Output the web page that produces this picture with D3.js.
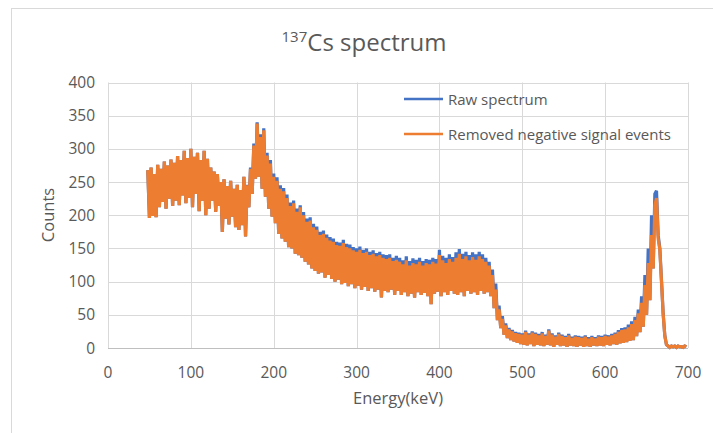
<!DOCTYPE html>
<meta charset="utf-8">
<style>
body { margin: 0; background: #fff; }
text { font-family: "Open Sans", "Noto Sans", sans-serif; fill: #595959; }
.grid line { stroke: #d9d9d9; stroke-width: 1; }
.series { fill: none; stroke-width: 3.2; stroke-linejoin: miter; }
</style>
<svg width="713" height="433"></svg>
<script src="https://d3js.org/d3.v7.min.js"></script>
<script>
// channel energies: first channel at 48 keV, one sample every 2 keV
var firstEnergy = 48, channelStep = 2;

// orange series (upper/lower edges of the noisy band)
var cleanedCounts = [
  268,196,272,199,262,197,276,212,270,220,
  281,210,275,225,284,214,279,222,289,215,
  283,230,297,218,286,226,300,212,288,232,
  294,206,283,222,297,200,285,210,272,222,
  266,205,262,214,250,175,254,195,244,186,
  252,198,240,182,246,178,238,185,258,168,
  245,212,270,232,305,255,338,258,318,240,
  328,228,290,210,278,198,258,188,252,172,
  240,165,236,160,226,152,214,150,218,142,
  205,140,212,136,200,130,190,126,192,120,
  182,116,178,112,170,114,172,106,166,110,
  162,104,160,100,155,103,154,96,158,98,
  152,93,150,96,147,90,145,94,148,88,
  143,92,145,86,140,90,142,85,138,88,
  140,76,136,86,134,84,136,88,131,80,
  133,86,130,80,126,84,132,78,124,82,
  128,76,126,84,130,80,124,83,128,78,
  126,66,130,82,127,85,140,78,132,84,
  128,80,134,86,130,82,136,80,142,84,
  134,78,138,86,132,82,137,84,133,80,
  138,86,134,82,130,84,124,78,110,60,
  88,42,58,30,44,20,34,15,28,12,
  25,10,22,8,21,6,20,5,24,4,
  20,6,23,3,21,5,19,4,22,3,
  18,5,26,4,20,2,17,5,21,3,
  18,4,16,2,19,4,15,3,17,2,
  16,4,15,2,17,3,14,2,16,4,
  14,3,17,4,16,3,18,5,17,4,
  19,6,21,5,24,7,27,8,28,9,
  31,11,36,12,42,18,52,24,68,32,
  95,50,128,72,170,120,215,226,165,148,
  100,52,18,5,3,1,3,2,3,1,
  3,2,2,1,3,2
];

// blue series (raw), sits a little above the orange one on its top edge
var rawCounts = [
  268,196,272,199,262,197,276,212,270,220,
  281,210,275,225,284,214,279,222,289,215,
  283,230,297,218,286,226,300,212,288,232,
  294,206,283,222,297,200,285,210,272,222,
  266,205,262,214,250,175,254,195,244,186,
  252,198,240,182,246,178,238,185,258,168,
  246,212,272,232,308,255,340,258,322,240,
  331,228,294,210,283,198,263,188,257,172,
  245,165,241,160,231,152,219,150,222,142,
  210,140,215,136,205,130,195,126,197,120,
  187,116,183,112,175,114,177,106,171,110,
  167,104,165,100,160,103,159,96,163,98,
  157,93,156,96,152,90,150,94,153,88,
  148,92,150,86,145,90,147,85,143,88,
  145,76,141,86,140,84,141,88,136,80,
  139,86,136,80,132,84,138,78,131,82,
  135,76,133,84,136,80,131,83,134,78,
  133,66,136,82,134,85,148,78,139,84,
  136,80,141,86,137,82,144,80,149,84,
  142,78,145,86,140,82,144,84,141,80,
  145,86,141,82,136,84,130,78,118,60,
  97,42,64,30,48,20,37,15,30,12,
  27,10,24,8,23,6,22,5,26,4,
  22,6,25,3,23,5,21,4,24,3,
  20,5,28,4,22,2,19,5,23,3,
  20,4,18,2,21,4,17,3,19,2,
  18,4,17,2,19,3,16,2,18,4,
  16,3,19,4,18,3,20,5,19,4,
  21,6,23,5,27,7,30,8,31,9,
  35,11,40,12,47,18,58,24,78,32,
  110,50,150,72,200,120,232,237,170,150,
  102,52,19,5,3,1,3,2,3,1,
  3,2,2,1,3,2
];

var seriesNames = ["Raw spectrum", "Removed negative signal events"];
var seriesColors = ["#4472c4", "#ed7d31"];
var xTicks = [0, 100, 200, 300, 400, 500, 600, 700];
var yTicks = [0, 50, 100, 150, 200, 250, 300, 350, 400];

var svg = d3.select("svg");

// outer chart frame (runs off the right and bottom of the shot)
svg.append("rect")
    .attr("x", 11.5).attr("y", 8.5)
    .attr("width", 760).attr("height", 480)
    .attr("fill", "#fff")
    .attr("stroke", "#d9d9d9");

var x = d3.scaleLinear().domain([0, 700]).range([108, 688]),
    y = d3.scaleLinear().domain([0, 400]).range([348, 82.5]);

var grid = svg.append("g").attr("class", "grid");
grid.selectAll(".h").data(yTicks.slice(1)).enter().append("line")
    .attr("x1", x(0)).attr("x2", x(700))
    .attr("y1", function(d) { return Math.round(y(d)) + 0.5; })
    .attr("y2", function(d) { return Math.round(y(d)) + 0.5; });
grid.selectAll(".v").data(xTicks).enter().append("line")
    .attr("y1", y(0)).attr("y2", y(400))
    .attr("x1", function(d) { return Math.round(x(d)) + 0.5; })
    .attr("x2", function(d) { return Math.round(x(d)) + 0.5; });

// x axis line
svg.append("line")
    .attr("x1", x(0)).attr("x2", x(700))
    .attr("y1", Math.round(y(0)) + 0.5).attr("y2", Math.round(y(0)) + 0.5)
    .attr("stroke", "#bfbfbf");

svg.selectAll(".xt").data(xTicks).enter().append("text")
    .attr("x", function(d) { return x(d); })
    .attr("y", 378)
    .attr("text-anchor", "middle")
    .style("font-size", "15.5px")
    .text(function(d) { return d; });

svg.selectAll(".yt").data(yTicks).enter().append("text")
    .attr("x", 95)
    .attr("y", function(d) { return y(d) + 5.5; })
    .attr("text-anchor", "end")
    .style("font-size", "15.5px")
    .text(function(d) { return d; });

var line = d3.line()
    .x(function(d, i) { return x(firstEnergy + i * channelStep); })
    .y(function(d) { return y(d); });

[rawCounts, cleanedCounts].forEach(function(s, k) {
    svg.append("path")
        .datum(s)
        .attr("class", "series")
        .attr("stroke", seriesColors[k])
        .attr("d", line);
});

// title
var title = svg.append("text")
    .attr("x", 364).attr("y", 51)
    .attr("text-anchor", "middle")
    .style("font-size", "24px");
title.append("tspan").attr("dy", "-9").style("font-size", "15px").text("137");
title.append("tspan").attr("dy", "9").text("Cs spectrum");

svg.append("text")
    .attr("x", 398).attr("y", 404)
    .attr("text-anchor", "middle")
    .style("font-size", "16.5px")
    .text("Energy(keV)");

svg.append("text")
    .attr("transform", "translate(54,215) rotate(-90)")
    .attr("text-anchor", "middle")
    .style("font-size", "16.5px")
    .text("Counts");

// legend
var legend = svg.selectAll(".leg").data(seriesNames).enter().append("g")
    .attr("transform", function(d, i) { return "translate(404," + (99 + i * 35) + ")"; });
legend.append("line")
    .attr("x1", 0).attr("x2", 39)
    .attr("stroke", function(d, i) { return seriesColors[i]; })
    .attr("stroke-width", 2.5);
legend.append("text")
    .attr("x", 44).attr("y", 5.5)
    .style("font-size", "15px")
    .text(function(d) { return d; });
</script>
